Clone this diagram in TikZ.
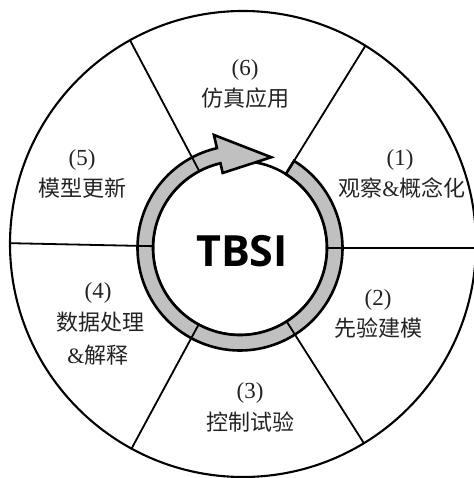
\documentclass[tikz,border=0pt]{standalone}
\usepackage{fontspec}
\setmainfont{Liberation Serif}
\newfontfamily\cjk{Noto Sans CJK SC}
\newfontfamily\tbsifont{Open Sans}
\definecolor{ringgray}{RGB}{192,192,192}
\definecolor{txt}{RGB}{35,35,35}
\begin{document}
\begin{tikzpicture}[x=1pt,y=1pt,
  numlbl/.style={font=\fontsize{23}{23}\selectfont, text=txt, inner sep=0pt},
  cjklbl/.style={font=\fontsize{22}{22}\selectfont\cjk, text=txt, inner sep=0pt},
  divider/.style={line width=1.8pt},
  ringline/.style={line width=2.6pt},
]
\useasboundingbox (0,0) rectangle (473,478);
\coordinate (outc) at (243,234);
\coordinate (ringc) at (240,230);
% outer circle
\draw[line width=2.1pt] (outc) circle (233);
% inner disc
\draw[ringline, fill=white] (ringc) circle (87);
% ring with arrow
\draw[ringline, fill=ringgray, line join=miter]
  ([shift={(58.2:102.5)}]ringc) arc[start angle=58.2, end angle=-257, radius=102.5]
  -- ([shift={(103:116)}]ringc)
  -- ([shift={(71:96)}]ringc)
  -- ([shift={(103:77)}]ringc)
  -- ([shift={(103:87)}]ringc)
  arc[start angle=103, end angle=418.2, radius=87] -- cycle;
% dividers
\begin{scope}
\clip (outc) circle (233);
\foreach \a in {0,58.2,117.9,178.8,241.6,302.4}
  \draw[divider] ([shift={(\a:87)}]ringc) -- ([shift={(\a:300)}]ringc);
\end{scope}
% center
\node[font=\fontsize{43}{43}\selectfont\tbsifont\bfseries, inner sep=0pt] (tbsi) at (242,227) {TBSI};
% labels
\node[numlbl] (n6) at (245,408) {(6)};
\node[cjklbl] (t6) at (245,380) {仿真应用};
\node[numlbl] (n1) at (400,318) {(1)};
\node[cjklbl] (t1) at (402,290) {观察{\rmfamily\&}概念化};
\node[numlbl] (n2) at (378,178) {(2)};
\node[cjklbl] (t2) at (378,150) {先验建模};
\node[numlbl] (n3) at (250,85) {(3)};
\node[cjklbl] (t3) at (250,56) {控制试验};
\node[numlbl] (n4) at (98,185) {(4)};
\node[cjklbl] (t4) at (100,156) {数据处理};
\node[cjklbl] (t4b) at (98,123) {{\rmfamily\&}解释};
\node[numlbl] (n5) at (82,318) {(5)};
\node[cjklbl] (t5) at (82,290) {模型更新};
\end{tikzpicture}
\end{document}
